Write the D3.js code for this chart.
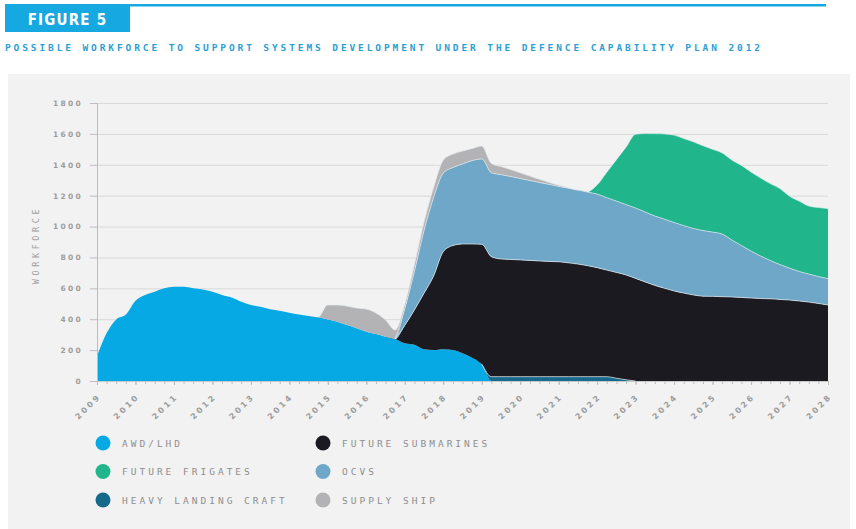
<!DOCTYPE html>
<html>
<head>
<meta charset="utf-8">
<script src="https://cdn.jsdelivr.net/npm/d3@7/dist/d3.min.js"></script>
<style>
  html, body { margin: 0; padding: 0; background: #ffffff; }
  svg { display: block; }
</style>
</head>
<body>
<script>
// ---------------- DATA ----------------
const title = "FIGURE 5";
const subtitle = "POSSIBLE WORKFORCE TO SUPPORT SYSTEMS DEVELOPMENT UNDER THE DEFENCE CAPABILITY PLAN 2012";
const yTitle = "WORKFORCE";

// quarterly time points 2009.00 ... 2028.00
const quarters = d3.range(0, 77).map(i => 2009 + i / 4);
const yearTicks = [2009,2010,2011,2012,2013,2014,2015,2016,2017,2018,2019,2020,2021,2022,2023,2024,2025,2026,2027,2028];
const yTicks = [0,200,400,600,800,1000,1200,1400,1600,1800];

const awdLhd = [
  160,310,399,430,520,557,578,600,610,610,
  600,593,578,557,541,513,492,481,464,455,
  442,431,421,412,399,384,362,341,319,304,
  287,272,244,235,205,200,205,200,180,150,
  110,0,0,0,0,0,0,0,0,0,
  0,0,0,0,0,0,0,0,0,0,
  0,0,0,0,0,0,0,0,0,0,
  0,0,0,0,0,0,0
];
const heavyLandingCraft = [
  0,0,0,0,0,0,0,0,0,0,
  0,0,0,0,0,0,0,0,0,0,
  0,0,0,0,0,0,0,0,0,0,
  0,0,0,0,0,0,0,0,0,0,
  0,28,28,28,28,28,28,28,28,28,
  28,28,28,28,18,8,0,0,0,0,
  0,0,0,0,0,0,0,0,0,0,
  0,0,0,0,0,0,0
];
const futureSubmarines = [
  0,0,0,0,0,0,0,0,0,0,
  0,0,0,0,0,0,0,0,0,0,
  0,0,0,0,0,0,0,0,0,0,
  0,0,116,225,363,480,632,677,707,737,
  775,777,762,759,756,753,749,746,744,737,
  729,719,706,690,685,679,664,641,619,600,
  583,569,557,549,548,546,544,541,537,534,
  532,528,524,518,511,502,492
];
const ocvs = [
  0,0,0,0,0,0,0,0,0,0,
  0,0,0,0,0,0,0,0,0,0,
  0,0,0,0,0,0,0,0,0,0,
  0,0,107,250,406,509,509,505,518,540,
  553,544,546,537,527,517,508,499,488,483,
  479,476,476,469,462,455,456,453,449,448,
  443,437,431,425,416,405,369,336,304,275,
  248,226,207,191,182,174,171
];
const supplyShip = [
  0,0,0,0,0,0,0,0,0,0,
  0,0,0,0,0,0,0,0,0,0,
  0,0,0,0,93,108,123,131,147,136,
  108,58,30,45,55,65,84,87,84,78,
  83,60,53,45,37,29,21,13,8,4,
  0,0,0,0,0,0,0,0,0,0,
  0,0,0,0,0,0,0,0,0,0,
  0,0,0,0,0,0,0
];
const futureFrigates = [
  0,0,0,0,0,0,0,0,0,0,
  0,0,0,0,0,0,0,0,0,0,
  0,0,0,0,0,0,0,0,0,0,
  0,0,0,0,0,0,0,0,0,0,
  0,0,0,0,0,0,0,0,0,0,
  0,0,60,165,268,372,478,508,534,552,
  566,564,561,550,536,526,518,519,512,505,
  498,492,466,456,440,447,454
];

// stacking order (bottom to top)
const stackKeys = ["AWD/LHD","HEAVY LANDING CRAFT","FUTURE SUBMARINES","OCVS","SUPPLY SHIP","FUTURE FRIGATES"];
const seriesValues = [awdLhd, heavyLandingCraft, futureSubmarines, ocvs, supplyShip, futureFrigates];
const seriesColors = ["#06a9e4","#17698b","#1b1a20","#6ea7c7","#b3b3b5","#20b58b"];

// legend order (column-major)
const legendNames = ["AWD/LHD","FUTURE FRIGATES","HEAVY LANDING CRAFT","FUTURE SUBMARINES","OCVS","SUPPLY SHIP"];

// ---------------- CHART ----------------
const W = 856, H = 529;
const svg = d3.select("body").append("svg").attr("width", W).attr("height", H);

const blue = "#16a9e1";
// header
svg.append("rect").attr("x", 5).attr("y", 4).attr("width", 821).attr("height", 2.5).attr("fill", blue);
svg.append("rect").attr("x", 5).attr("y", 6).attr("width", 125).attr("height", 26).attr("fill", blue);
svg.append("text").text(title)
  .attr("x", 67.5).attr("y", 25)
  .attr("text-anchor", "middle")
  .attr("fill", "#ffffff")
  .attr("font-family", "'DejaVu Sans Condensed','Liberation Sans Narrow','DejaVu Sans',sans-serif")
  .attr("font-weight", "bold").attr("font-size", 15).attr("letter-spacing", 1.2);
svg.append("text").text(subtitle)
  .attr("x", 5).attr("y", 51)
  .attr("fill", "#2d9fd3")
  .attr("font-family", "'DejaVu Sans Mono',monospace")
  .attr("font-weight", "bold").attr("font-size", 9.5)
  .attr("textLength", 755).attr("lengthAdjust", "spacing");

// panel
svg.append("rect").attr("x", 8).attr("y", 74).attr("width", 842).attr("height", H - 74).attr("fill", "#f2f2f2");

// scales
const x = d3.scaleLinear().domain([2009, 2028]).range([97, 828]);
const y = d3.scaleLinear().domain([0, 1800]).range([381, 103]);

const grey = "#9d9d9d";
const labelFont = "'DejaVu Sans',sans-serif";

// gridlines
const grid = svg.append("g").attr("transform", "translate(97,0)")
  .call(d3.axisLeft(y).tickValues(yTicks.filter(v => v > 0)).tickSize(-731).tickFormat(""));
grid.select(".domain").remove();
grid.selectAll("line").attr("stroke", "#d9d9d9").attr("stroke-width", 1);

// areas
const table = quarters.map((q, i) => {
  const row = { year: q };
  stackKeys.forEach((k, j) => row[k] = seriesValues[j][i]);
  return row;
});
const stacked = d3.stack().keys(stackKeys)(table);
const area = d3.area()
  .x(d => x(d.data.year))
  .y0(d => y(d[0]))
  .y1(d => y(d[1]))
  .curve(d3.curveMonotoneX);

svg.append("g").selectAll("path").data(stacked).join("path")
  .attr("d", area)
  .attr("fill", (d, i) => seriesColors[i]);

// thin light outlines along each layer top
svg.append("g").selectAll("path").data(stacked).join("path")
  .attr("d", (s, j) => {
    const vals = seriesValues[j];
    return d3.line()
      .defined((d, i) => vals[i] > 0 || (i > 0 && vals[i - 1] > 0) || (i < vals.length - 1 && vals[i + 1] > 0))
      .x(d => x(d.data.year)).y(d => y(d[1]))
      .curve(d3.curveMonotoneX)(s);
  })
  .attr("fill", "none")
  .attr("stroke", (d, i) => i === 0 ? "none" : "#e4ecf0")
  .attr("stroke-width", 0.8)
  .attr("stroke-opacity", 0.85);

// y axis
const yAxis = svg.append("g").attr("transform", "translate(97,0)")
  .call(d3.axisLeft(y).tickValues(yTicks).tickSize(7).tickPadding(7).tickFormat(d3.format("d")));
yAxis.select(".domain").attr("stroke", "#bdbdbd");
yAxis.selectAll(".tick line").attr("stroke", "#bdbdbd");
yAxis.selectAll("text")
  .attr("fill", grey)
  .attr("font-family", labelFont).attr("font-weight", "bold")
  .attr("font-size", 7.5).attr("letter-spacing", 2.3);

// y title
svg.append("text").text(yTitle)
  .attr("transform", "translate(39,245) rotate(-90)")
  .attr("text-anchor", "middle")
  .attr("fill", "#a0a0a0")
  .attr("font-family", "'DejaVu Sans Mono',monospace")
  .attr("font-size", 8.5).attr("letter-spacing", 3.6);

// x axis minor ticks (quarters)
const xMinor = svg.append("g").attr("transform", "translate(0,381)")
  .call(d3.axisBottom(x).tickValues(quarters).tickSize(3).tickFormat(""));
xMinor.select(".domain").attr("stroke", "#c8c8c8");
xMinor.selectAll("line").attr("stroke", "#bdbdbd");

// x axis year labels
const xAxis = svg.append("g").attr("transform", "translate(0,381)")
  .call(d3.axisBottom(x).tickValues(yearTicks).tickSize(4).tickFormat(d3.format("d")));
xAxis.select(".domain").remove();
xAxis.selectAll("line").attr("stroke", "#bdbdbd");
xAxis.selectAll("text")
  .attr("x", 0).attr("y", 0).attr("dy", 0)
  .attr("text-anchor", "end")
  .attr("transform", "translate(4,16) rotate(-45)")
  .attr("fill", grey)
  .attr("font-family", labelFont).attr("font-weight", "bold")
  .attr("font-size", 8).attr("letter-spacing", 2.6);

// legend
const legend = svg.append("g");
legendNames.forEach((name, i) => {
  const col = Math.floor(i / 3), row = i % 3;
  const lx = 103 + col * 220, ly = 443 + row * 28.5;
  const color = seriesColors[stackKeys.indexOf(name)];
  legend.append("circle").attr("cx", lx).attr("cy", ly).attr("r", 7.5).attr("fill", color);
  legend.append("text").text(name)
    .attr("x", lx + 19).attr("y", ly + 3.5)
    .attr("fill", "#8e8e8e")
    .attr("font-family", "'DejaVu Sans Mono',monospace")
    .attr("font-size", 9.5).attr("letter-spacing", 3);
});
</script>
</body>
</html>
